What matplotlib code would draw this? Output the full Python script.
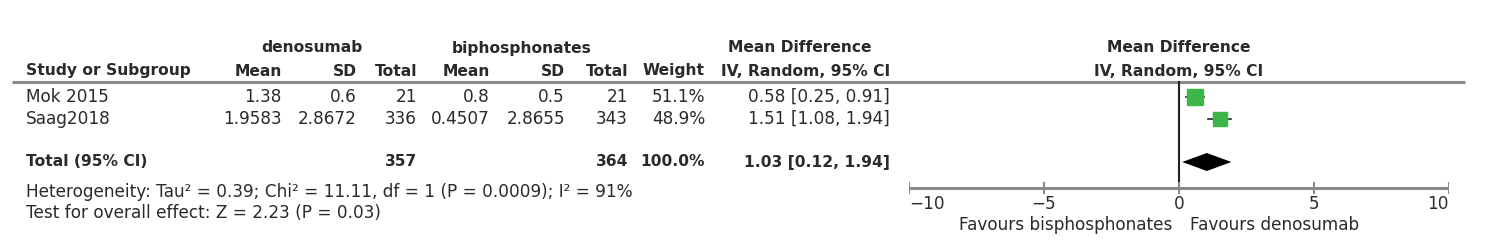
import matplotlib
matplotlib.use("Agg")
import matplotlib.pyplot as plt
import numpy as np

# study data
studies = ["Mok 2015", "Saag2018"]
deno_mean = ["1.38", "1.9583"]
deno_sd = ["0.6", "2.8672"]
deno_n = [21, 336]
bis_mean = ["0.8", "0.4507"]
bis_sd = ["0.5", "2.8655"]
bis_n = [21, 343]
weights = [51.1, 48.9]
md = [0.58, 1.51]
ci_lo = [0.25, 1.08]
ci_hi = [0.91, 1.94]

total_md, total_lo, total_hi = 1.03, 0.12, 1.94
heterogeneity = "Heterogeneity: Tau\u00b2 = 0.39; Chi\u00b2 = 11.11, df = 1 (P = 0.0009); I\u00b2 = 91%"
overall = "Test for overall effect: Z = 2.23 (P = 0.03)"
ticks = [-10, -5, 0, 5, 10]
tick_labels = ["\u221210", "\u22125", "0", "5", "10"]

plt.rcParams['font.family'] = ['DejaVu Sans']
FS = 12.2      # regular text
FSB = 11.2     # bold text
TXT = '#2a2a2a'
GREY = '#8a8a8a'
GREEN = '#3db54a'

fig = plt.figure(figsize=(15, 2.42), dpi=100)
ax = fig.add_axes([0, 0, 1, 1])
ax.set_xlim(0, 1500)
ax.set_ylim(242, 0)
ax.axis('off')

# forest panel: x in data units, y in pixel rows
fx = fig.add_axes([909 / 1500, 0, 540 / 1500, 1])
fx.set_xlim(-10, 10)
fx.set_ylim(242, 0)
fx.axis('off')

y_h1, y_h2, y_line = 48, 71, 82
rows_y = [97, 119]
y_total, y_het, y_test = 162, 192, 213
y_axis = 188

def t(x, y, s, ha='right', bold=False, a=ax):
    a.text(x, y, s, ha=ha, va='center', fontsize=FSB if bold else FS, color=TXT,
           fontweight='bold' if bold else 'normal')

# headers
t(312, y_h1, "denosumab", 'center', True)
t(522, y_h1, "biphosphonates", 'center', True)
t(800, y_h1, "Mean Difference", 'center', True)
t(0, y_h1, "Mean Difference", 'center', True, fx)

cols = [282, 357, 417, 490, 565, 628, 705, 890]
t(26, y_h2, "Study or Subgroup", 'left', True)
for x, s in zip(cols, ["Mean", "SD", "Total", "Mean", "SD", "Total", "Weight", "IV, Random, 95% CI"]):
    t(x, y_h2, s, 'right', True)
t(0, y_h2, "IV, Random, 95% CI", 'center', True, fx)

ax.plot([12, 1465], [y_line, y_line], color=GREY, lw=2.2, solid_capstyle='butt')

# study rows
for i, y in enumerate(rows_y):
    t(26, y, studies[i], 'left')
    vals = [deno_mean[i], deno_sd[i], str(deno_n[i]), bis_mean[i], bis_sd[i],
            str(bis_n[i]), f"{weights[i]:.1f}%",
            f"{md[i]:.2f} [{ci_lo[i]:.2f}, {ci_hi[i]:.2f}]"]
    for x, s in zip(cols, vals):
        t(x, y, s)
    fx.plot([ci_lo[i], ci_hi[i]], [y, y], color='#222222', lw=1.2, zorder=2)
    fx.plot(md[i], y, marker='s', ms=11 * np.sqrt(weights[i] / 51.1),
            color=GREEN, mec=GREEN, zorder=3)

# total row
t(26, y_total, "Total (95% CI)", 'left', True)
t(cols[2], y_total, str(sum(deno_n)), bold=True)
t(cols[5], y_total, str(sum(bis_n)), bold=True)
t(cols[6], y_total, f"{sum(weights):.1f}%", bold=True)
t(cols[7], y_total, f"{total_md:.2f} [{total_lo:.2f}, {total_hi:.2f}]", bold=True)
fx.fill([total_lo, total_md, total_hi, total_md],
        [y_total, y_total - 9, y_total, y_total + 9], color='black', lw=0, zorder=3)

t(26, y_het, heterogeneity, 'left')
t(26, y_test, overall, 'left')

# zero line and x axis
fx.plot([0, 0], [y_line, y_axis], color='#222222', lw=1.5, zorder=1)
fx.plot([-10, 10], [y_axis, y_axis], color=GREY, lw=2.2, solid_capstyle='butt')
for tk, lab in zip(ticks, tick_labels):
    fx.plot([tk, tk], [y_axis - 5, y_axis + 5], color=GREY, lw=1.5)
    ha = 'left' if tk == ticks[0] else ('right' if tk == ticks[-1] else 'center')
    t(tk, 204, lab, ha, a=fx)

t(-0.25, 225, "Favours bisphosphonates", 'right', a=fx)
t(0.4, 225, "Favours denosumab", 'left', a=fx)

fig.savefig("out.png", dpi=100)
